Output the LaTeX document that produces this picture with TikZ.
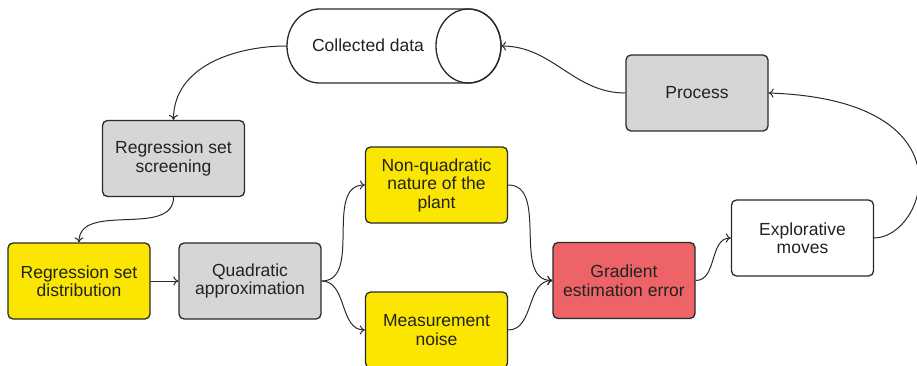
\documentclass[tikz,border=0pt]{standalone}
\usepackage{fontspec}
\setmainfont{Liberation Sans}
\usetikzlibrary{arrows.meta}
\definecolor{boxgray}{HTML}{D6D6D6}
\definecolor{boxyellow}{HTML}{FAE600}
\definecolor{boxred}{HTML}{EC6468}
\definecolor{edge}{HTML}{2A2A2A}
\definecolor{ink}{HTML}{222222}
\tikzset{
  blk/.style={draw=edge, line width=1.3pt, rounded corners=5pt,
    minimum width=142pt, minimum height=76pt, align=center,
    text=ink, font=\fontsize{17.5}{18.5}\selectfont, inner sep=2pt},
  graybox/.style={blk, fill=boxgray},
  yellowbox/.style={blk, fill=boxyellow},
  redbox/.style={blk, fill=boxred},
  whitebox/.style={blk, fill=white},
  link/.style={draw=edge, line width=1pt, -{To[length=5pt,width=9pt]}},
}
\begin{document}
\begin{tikzpicture}[x=1pt,y=-1pt]
\useasboundingbox (0,0) rectangle (917,366);
\begin{scope}
\clip (0,0) rectangle (917,366);

% storage drum for the collected data (y axis points down here)
\draw[edge, line width=1.3pt, fill=white]
  (468.5,9) -- (319.5,9) arc[start angle=-90, end angle=-270, x radius=32.5, y radius=37]
  -- (468.5,83) arc[start angle=90, end angle=-90, x radius=32.5, y radius=37] -- cycle;
\draw[edge, line width=1.3pt] (468.5,46) ellipse[x radius=32.5, y radius=37];
\node[text=ink, font=\fontsize{17.5}{18.5}\selectfont] (data) at (368,45) {Collected data};
\coordinate (dataW) at (287,46);
\coordinate (dataE) at (501,46);

% blocks
\node[graybox]   (screen) at (173.5,158.5) {Regression set\\screening};
\node[yellowbox] (dist)   at (79,281)      {Regression set\\distribution};
\node[graybox]   (quad)   at (250,281)     {Quadratic\\approximation};
\node[yellowbox] (nonq)   at (436.5,185)   {Non-quadratic\\nature of the\\plant};
\node[yellowbox] (meas)   at (436.5,330)   {Measurement\\noise};
\node[redbox]    (grad)   at (624,280.5)   {Gradient\\estimation error};
\node[whitebox]  (expl)   at (802.5,238)   {Explorative\\moves};
\node[graybox]   (proc)   at (697,93)      {Process};

% connectors
\draw[link] (dataW) to[out=180, in=90, looseness=1] (screen.north);
\draw[link] (screen.south) to[out=-90, in=90, looseness=1] (dist.north);
\draw[link] (dist.east) -- (quad.west);
\draw[link] (quad.east) to[out=0, in=180] (nonq.west);
\draw[link] (quad.east) to[out=0, in=180] (meas.west);
\draw[link] (nonq.east) to[out=0, in=180] (grad.west);
\draw[link] (meas.east) to[out=0, in=180] (grad.west);
\draw[link] (grad.east) to[out=0, in=180] (expl.west);
\draw[link] (expl.east) .. controls (925,238) and (975,100) .. (proc.east);
\draw[link] (proc.west) to[out=180, in=0] (dataE);
\end{scope}
\end{tikzpicture}
\end{document}
